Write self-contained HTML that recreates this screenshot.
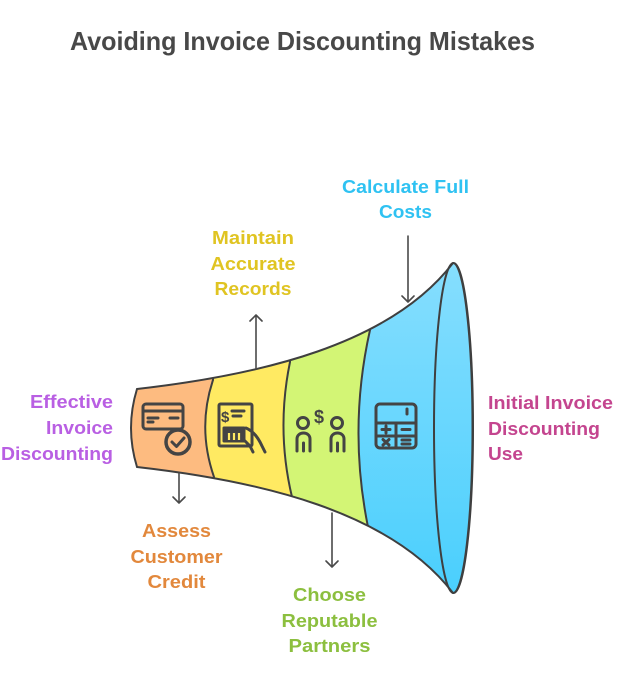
<!DOCTYPE html>
<html>
<head>
<meta charset="utf-8">
<style>
  html,body{margin:0;padding:0;background:#fff;}
  svg{display:block;}
  text{font-family:"Liberation Sans",Arial,sans-serif;font-weight:bold;}
</style>
</head>
<body>
<svg width="620" height="673" viewBox="0 0 620 673" xmlns="http://www.w3.org/2000/svg">
  <defs>
    <linearGradient id="blue" x1="0" y1="0" x2="0" y2="1">
      <stop offset="0" stop-color="#86defe"/>
      <stop offset="1" stop-color="#4acffd"/>
    </linearGradient>
    <clipPath id="funnelClip">
      <path d="M 137 389 C 260 375 390 345 453 263 A 19.5 165 0 0 1 453 593 C 390 511 260 481 137 467 Q 125 428 137 389 Z"/>
    </clipPath>
  </defs>

  <!-- Title -->
  <text x="70" y="50" font-size="26" fill="#484848" textLength="465" lengthAdjust="spacingAndGlyphs">Avoiding Invoice Discounting Mistakes</text>

  <!-- Funnel body -->
  <path d="M 137 389 C 260 375 390 345 453 263 A 19.5 165 0 0 1 453 593 C 390 511 260 481 137 467 Q 125 428 137 389 Z" fill="url(#blue)"/>
  <g clip-path="url(#funnelClip)">
    <path d="M 100 250 L 370 250 L 370 330 Q 348 428 368 527 L 368 620 L 100 620 Z" fill="#d3f575"/>
    <path d="M 100 250 L 290 250 L 290 362 Q 276 430 292 497 L 292 620 L 100 620 Z" fill="#ffea62"/>
    <path d="M 100 250 L 213 250 L 213 380 Q 197 428 214 477 L 214 620 L 100 620 Z" fill="#fdbb80"/>
    <g fill="none" stroke="#3f3f3f" stroke-width="2">
      <path d="M 370 300 L 370 330 Q 348 428 368 527 L 368 560"/>
      <path d="M 290 330 L 290 362 Q 276 430 292 497 L 292 530"/>
      <path d="M 213 350 L 213 380 Q 197 428 214 477 L 214 510"/>
    </g>
  </g>
  <!-- Right ellipse -->
  <ellipse cx="453.5" cy="428" rx="19.5" ry="165" fill="url(#blue)" stroke="#3f3f3f" stroke-width="2"/>
  <!-- Funnel outline -->
  <path d="M 137 389 C 260 375 390 345 453 263 A 19.5 165 0 0 1 453 593 C 390 511 260 481 137 467 Q 125 428 137 389 Z" fill="none" stroke="#3f3f3f" stroke-width="2"/>

  <!-- Connectors -->
  <g fill="none" stroke="#4a4a4a" stroke-width="1.6" stroke-linecap="round" stroke-linejoin="round">
    <path d="M 179 473 L 179 503 M 173 497 L 179 503 L 185 497"/>
    <path d="M 332 513 L 332 567 M 326 561 L 332 567 L 338 561"/>
    <path d="M 256 369 L 256 315 M 250 321 L 256 315 L 262 321"/>
    <path d="M 408 236 L 408 302 M 402 296 L 408 302 L 414 296"/>
  </g>

  <!-- Icon: credit card with check -->
  <g fill="none" stroke="#444" stroke-width="3" stroke-linecap="round" stroke-linejoin="round">
    <rect x="143" y="404" width="40" height="25" rx="3"/>
    <line x1="143" y1="411" x2="183" y2="411"/>
    <line x1="148" y1="418" x2="158" y2="418"/>
    <line x1="148" y1="422" x2="153" y2="422"/>
    <line x1="170" y1="418" x2="178" y2="418"/>
    <circle cx="178" cy="442" r="12" fill="#fdbb80" stroke-width="3.5"/>
    <path d="M 172 442 L 176.5 446.5 L 184 438"/>
  </g>

  <!-- Icon: document with hand -->
  <g fill="none" stroke="#444" stroke-width="3" stroke-linecap="round" stroke-linejoin="round">
    <rect x="219" y="404" width="33" height="42" rx="1.5"/>
    <line x1="232" y1="411" x2="244" y2="411"/>
    <line x1="233" y1="416" x2="241" y2="416"/>
    <rect x="224" y="428" width="20" height="13" fill="#444"/>
    <path d="M 246 428 C 253 431 258 437 262 446 L 265 452"/>
    <path d="M 240 436 L 250 446 L 253 452"/>
  </g>
  <g stroke="#ffea62" stroke-width="2.2">
    <line x1="229" y1="433" x2="229" y2="440"/>
    <line x1="234" y1="433" x2="234" y2="440"/>
    <line x1="239" y1="433" x2="239" y2="440"/>
  </g>
  <text x="221" y="422" font-size="15" fill="#444">$</text>

  <!-- Icon: people with dollar -->
  <g fill="none" stroke="#444" stroke-width="3" stroke-linecap="round" stroke-linejoin="round">
    <circle cx="303" cy="423" r="5.5"/>
    <path d="M 297 451 L 297 439 C 297 431 310 431 310 439 L 310 451"/>
    <line x1="303.5" y1="443" x2="303.5" y2="451"/>
    <circle cx="337" cy="423" r="5.5"/>
    <path d="M 331 451 L 331 439 C 331 431 344 431 344 439 L 344 451"/>
    <line x1="337.5" y1="443" x2="337.5" y2="451"/>
  </g>
  <text x="319" y="423" font-size="18" fill="#444" text-anchor="middle">$</text>

  <!-- Icon: calculator -->
  <g fill="none" stroke="#444" stroke-width="3" stroke-linecap="round" stroke-linejoin="round">
    <rect x="376" y="404" width="40" height="44" rx="4"/>
    <line x1="376" y1="423" x2="416" y2="423"/>
    <line x1="376" y1="436" x2="416" y2="436"/>
    <line x1="396" y1="423" x2="396" y2="448"/>
    <line x1="407" y1="409" x2="407" y2="414"/>
    <line x1="382" y1="429.5" x2="390" y2="429.5"/>
    <line x1="386" y1="426" x2="386" y2="433"/>
    <line x1="402" y1="429.5" x2="410" y2="429.5"/>
    <line x1="383" y1="439.5" x2="389" y2="445"/>
    <line x1="389" y1="439.5" x2="383" y2="445"/>
    <line x1="402" y1="440" x2="410" y2="440"/>
    <line x1="402" y1="444" x2="410" y2="444"/>
  </g>

  <!-- Labels -->
  <g font-size="18.5" fill="#b95fe3" text-anchor="end">
    <text x="113" y="408" textLength="83" lengthAdjust="spacingAndGlyphs">Effective</text>
    <text x="113" y="434" textLength="67" lengthAdjust="spacingAndGlyphs">Invoice</text>
    <text x="113" y="460" textLength="112" lengthAdjust="spacingAndGlyphs">Discounting</text>
  </g>
  <g font-size="18.5" fill="#c4458f">
    <text x="488" y="409" textLength="125" lengthAdjust="spacingAndGlyphs">Initial Invoice</text>
    <text x="488" y="435" textLength="112" lengthAdjust="spacingAndGlyphs">Discounting</text>
    <text x="488" y="460" textLength="35" lengthAdjust="spacingAndGlyphs">Use</text>
  </g>
  <g font-size="18.5" fill="#2fc2f2" text-anchor="middle">
    <text x="405.5" y="193" textLength="127" lengthAdjust="spacingAndGlyphs">Calculate Full</text>
    <text x="405.5" y="218" textLength="53" lengthAdjust="spacingAndGlyphs">Costs</text>
  </g>
  <g font-size="18.5" fill="#e0c422" text-anchor="middle">
    <text x="253" y="244" textLength="82" lengthAdjust="spacingAndGlyphs">Maintain</text>
    <text x="253" y="270" textLength="85" lengthAdjust="spacingAndGlyphs">Accurate</text>
    <text x="253" y="295" textLength="77" lengthAdjust="spacingAndGlyphs">Records</text>
  </g>
  <g font-size="18.5" fill="#e2883c" text-anchor="middle">
    <text x="176.5" y="537" textLength="69" lengthAdjust="spacingAndGlyphs">Assess</text>
    <text x="176.5" y="563" textLength="92" lengthAdjust="spacingAndGlyphs">Customer</text>
    <text x="176.5" y="588" textLength="58" lengthAdjust="spacingAndGlyphs">Credit</text>
  </g>
  <g font-size="18.5" fill="#8cbf3f" text-anchor="middle">
    <text x="329.5" y="601" textLength="73" lengthAdjust="spacingAndGlyphs">Choose</text>
    <text x="329.5" y="627" textLength="96" lengthAdjust="spacingAndGlyphs">Reputable</text>
    <text x="329.5" y="652" textLength="82" lengthAdjust="spacingAndGlyphs">Partners</text>
  </g>
</svg>
</body>
</html>
